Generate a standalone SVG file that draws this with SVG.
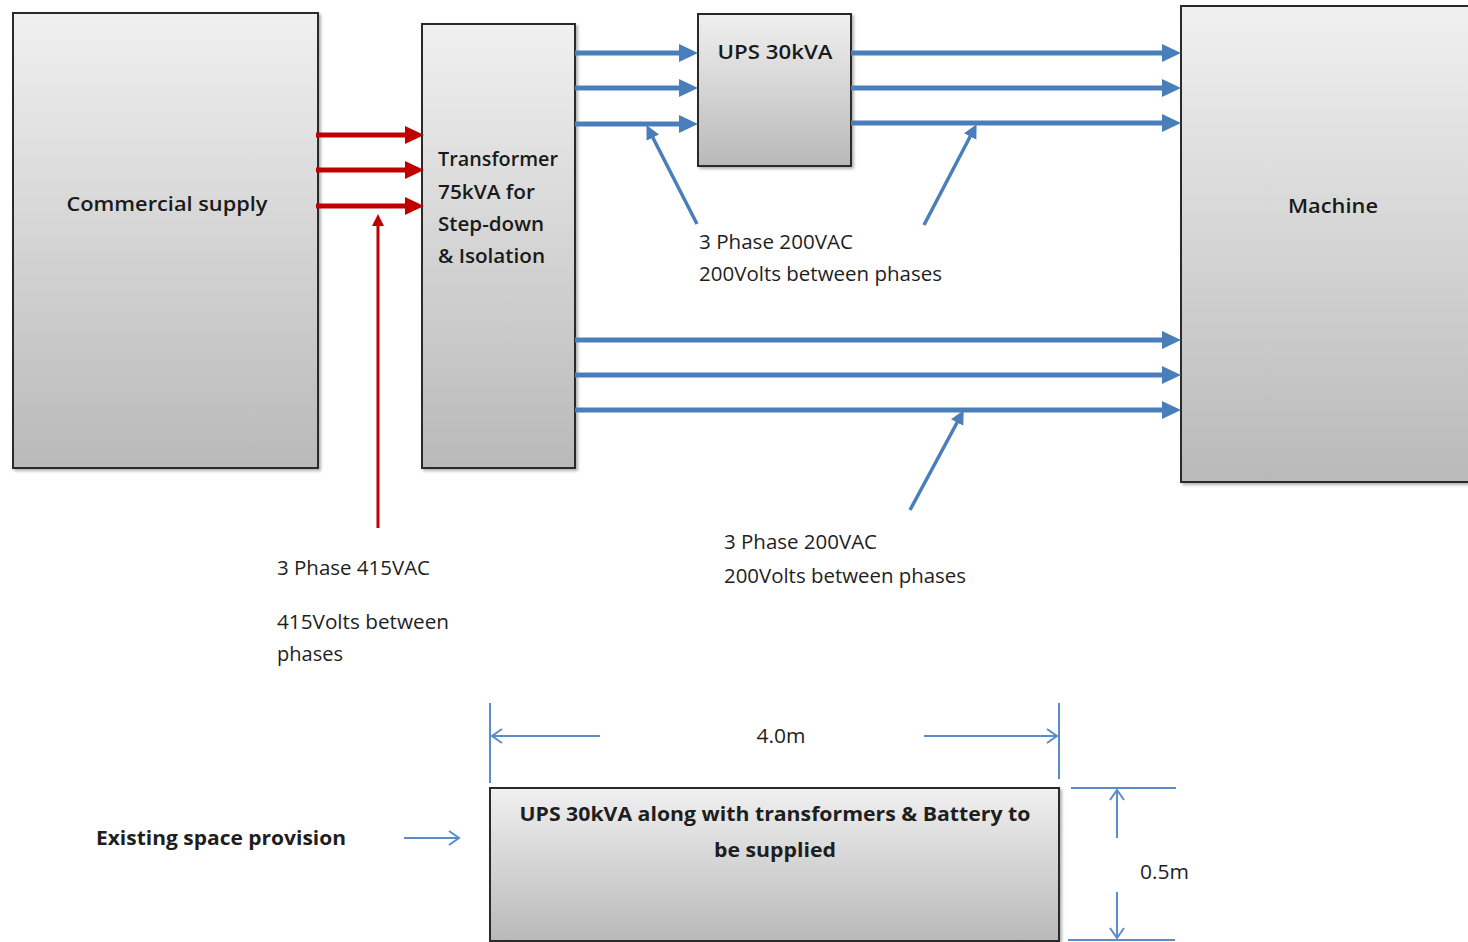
<svg xmlns="http://www.w3.org/2000/svg" width="1468" height="942" viewBox="0 0 1468 942">
<defs>
  <linearGradient id="g" x1="0" y1="0" x2="0" y2="1">
    <stop offset="0" stop-color="#f0f0f0"/>
    <stop offset="1" stop-color="#b9b9b9"/>
  </linearGradient>
  <marker id="hr" markerUnits="userSpaceOnUse" markerWidth="20" markerHeight="20" refX="6" refY="9" orient="auto" viewBox="0 0 20 20">
    <path d="M0,0 L19,9 L0,18 z" fill="#c00000"/>
  </marker>
  <marker id="hrs" markerUnits="userSpaceOnUse" markerWidth="14" markerHeight="14" refX="4" refY="6" orient="auto" viewBox="0 0 14 14">
    <path d="M0,0 L12,6 L0,12 z" fill="#c00000"/>
  </marker>
  <marker id="hb" markerUnits="userSpaceOnUse" markerWidth="20" markerHeight="20" refX="6" refY="9" orient="auto" viewBox="0 0 20 20">
    <path d="M0,0 L19,9 L0,18 z" fill="#4a7ebb"/>
  </marker>
  <marker id="hbs" markerUnits="userSpaceOnUse" markerWidth="16" markerHeight="16" refX="4" refY="7" orient="auto" viewBox="0 0 16 16">
    <path d="M0,0 L14,7 L0,14 z" fill="#4a7ebb"/>
  </marker>
  <marker id="ho" markerUnits="userSpaceOnUse" markerWidth="16" markerHeight="18" refX="13" refY="8" orient="auto" viewBox="0 0 16 18">
    <path d="M3,1 L13,8 L3,15" fill="none" stroke="#5b8cc8" stroke-width="2"/>
  </marker>
  <filter id="sh" x="-5%" y="-5%" width="115%" height="115%">
    <feDropShadow dx="2" dy="2" stdDeviation="1.5" flood-color="#000" flood-opacity="0.3"/>
  </filter>
</defs>
<style>
  .box{fill:url(#g);stroke:#2b2b2b;stroke-width:2;filter:url(#sh)}
  .t{font-family:"Open Sans","Liberation Sans",sans-serif;font-size:19.5px;fill:#1e1e1e}
  .n{font-family:"Open Sans","Liberation Sans",sans-serif;font-size:19.5px;font-weight:600;fill:#1a1a1a}
  .b{font-family:"Open Sans","Liberation Sans",sans-serif;font-size:19.5px;font-weight:700;fill:#1e1e1e}
  .red{stroke:#c00000;stroke-width:5;fill:none;marker-end:url(#hr)}
  .blue{stroke:#4a7ebb;stroke-width:5;fill:none;marker-end:url(#hb)}
  .ptr{stroke:#4a7ebb;stroke-width:3.5;fill:none;marker-end:url(#hbs)}
  .dim{stroke:#5b8cc8;stroke-width:2;fill:none}
  .dima{stroke:#5b8cc8;stroke-width:2;fill:none;marker-end:url(#ho)}
</style>

<g id="commercial-supply">
  <rect class="box" x="13" y="13" width="305" height="455"/>
  <text class="n" x="167" y="211" text-anchor="middle" textLength="201" lengthAdjust="spacingAndGlyphs">Commercial supply</text>
</g>
<g id="transformer">
  <rect class="box" x="422" y="24" width="153" height="444"/>
  <text class="n" x="438" y="166" textLength="120" lengthAdjust="spacingAndGlyphs">Transformer</text>
  <text class="n" x="438" y="199" textLength="97" lengthAdjust="spacingAndGlyphs">75kVA for</text>
  <text class="n" x="438" y="231" textLength="106" lengthAdjust="spacingAndGlyphs">Step-down</text>
  <text class="n" x="438" y="263" textLength="107" lengthAdjust="spacingAndGlyphs">&amp; Isolation</text>
</g>
<g id="ups">
  <rect class="box" x="698" y="14" width="153" height="152"/>
  <text class="n" x="775" y="59" text-anchor="middle" textLength="115" lengthAdjust="spacingAndGlyphs">UPS 30kVA</text>
</g>
<g id="machine">
  <rect class="box" x="1181" y="6" width="295" height="476"/>
  <text class="n" x="1333" y="213" text-anchor="middle" textLength="90" lengthAdjust="spacingAndGlyphs">Machine</text>
</g>
<g id="space-box">
  <rect class="box" x="490" y="788" width="569" height="153"/>
  <text class="b" x="775" y="821" text-anchor="middle" textLength="511" lengthAdjust="spacingAndGlyphs">UPS 30kVA along with transformers &amp; Battery to</text>
  <text class="b" x="775" y="857" text-anchor="middle" textLength="122" lengthAdjust="spacingAndGlyphs">be supplied</text>
</g>

<g id="connectors">
  <line class="red" x1="316" y1="135" x2="411" y2="135"/>
  <line class="red" x1="316" y1="170" x2="411" y2="170"/>
  <line class="red" x1="316" y1="206" x2="411" y2="206"/>
  <line x1="378" y1="528" x2="378" y2="222" stroke="#c00000" stroke-width="3" marker-end="url(#hrs)"/>

  <line class="blue" x1="575" y1="53" x2="685" y2="53"/>
  <line class="blue" x1="575" y1="88" x2="685" y2="88"/>
  <line class="blue" x1="575" y1="124" x2="685" y2="124"/>
  <line class="blue" x1="851" y1="53" x2="1168" y2="53"/>
  <line class="blue" x1="851" y1="88" x2="1168" y2="88"/>
  <line class="blue" x1="851" y1="123" x2="1168" y2="123"/>
  <line class="blue" x1="575" y1="340" x2="1168" y2="340"/>
  <line class="blue" x1="575" y1="375" x2="1168" y2="375"/>
  <line class="blue" x1="575" y1="410" x2="1168" y2="410"/>

  <line class="ptr" x1="697" y1="224" x2="651" y2="134"/>
  <line class="ptr" x1="924" y1="225" x2="972" y2="133"/>
  <line class="ptr" x1="910" y1="510" x2="959" y2="419"/>

  <line class="dim" x1="490" y1="703" x2="490" y2="783"/>
  <line class="dim" x1="1059" y1="703" x2="1059" y2="779"/>
  <line class="dima" x1="600" y1="736" x2="492" y2="736"/>
  <line class="dima" x1="924" y1="736" x2="1057" y2="736"/>
  <line class="dim" x1="1071" y1="788" x2="1176" y2="788"/>
  <line class="dim" x1="1068" y1="940" x2="1175" y2="940"/>
  <line class="dima" x1="1117" y1="838" x2="1117" y2="790"/>
  <line class="dima" x1="1117" y1="892" x2="1117" y2="938"/>
  <line class="dima" x1="404" y1="838" x2="459" y2="838"/>
</g>

<g id="labels">
  <text class="t" x="699" y="249" textLength="154" lengthAdjust="spacingAndGlyphs">3 Phase 200VAC</text>
  <text class="t" x="699" y="281" textLength="243" lengthAdjust="spacingAndGlyphs">200Volts between phases</text>
  <text class="t" x="724" y="549" textLength="153" lengthAdjust="spacingAndGlyphs">3 Phase 200VAC</text>
  <text class="t" x="724" y="583" textLength="242" lengthAdjust="spacingAndGlyphs">200Volts between phases</text>
  <text class="t" x="277" y="575" textLength="153" lengthAdjust="spacingAndGlyphs">3 Phase 415VAC</text>
  <text class="t" x="277" y="629" textLength="172" lengthAdjust="spacingAndGlyphs">415Volts between</text>
  <text class="t" x="277" y="661" textLength="66" lengthAdjust="spacingAndGlyphs">phases</text>
  <text class="t" x="781" y="743" text-anchor="middle" textLength="49" lengthAdjust="spacingAndGlyphs">4.0m</text>
  <text class="b" x="96" y="845" textLength="250" lengthAdjust="spacingAndGlyphs">Existing space provision</text>
  <text class="t" x="1140" y="879" textLength="49" lengthAdjust="spacingAndGlyphs">0.5m</text>
</g>
</svg>
